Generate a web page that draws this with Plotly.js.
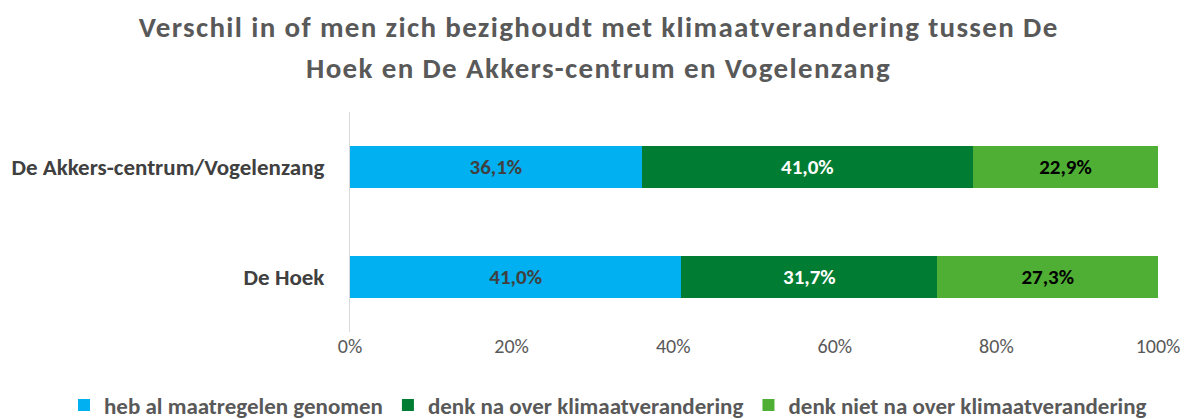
<!DOCTYPE html>
<html>
<head>
<meta charset="utf-8">
<script src="https://cdn.plot.ly/plotly-3.0.1.min.js"></script>
<style>
html,body{margin:0;padding:0;background:#fff;}
#chart{width:1192px;height:419px;}
#chart .annotation-text{letter-spacing:1.35px;}
</style>
</head>
<body>
<div id="chart"></div>
<script>
const categories = ["De Hoek", "De Akkers-centrum/Vogelenzang"];
const seriesNames = ["heb al maatregelen genomen", "denk na over klimaatverandering", "denk niet na over klimaatverandering"];
const maatregelen = [41.0, 36.1];
const denkNa = [31.7, 41.0];
const denkNietNa = [27.3, 22.9];
const tickVals = [0, 20, 40, 60, 80, 100];
const tickLabels = ["0%", "20%", "40%", "60%", "80%", "100%"];
const titleLines = ["Verschil in of men zich bezighoudt met klimaatverandering tussen De", "Hoek en De Akkers-centrum en Vogelenzang"];

const FONT = "Carlito, 'Open Sans', sans-serif";
const colors = ["#00B0F0", "#007D32", "#4FAF34"];
const textColors = ["#404040", "#ffffff", "#000000"];
const seriesData = [maatregelen, denkNa, denkNietNa];
const fmt = v => v.toFixed(1).replace('.', ',') + '%';

const traces = seriesData.map((vals, i) => ({
  type: 'bar',
  orientation: 'h',
  name: seriesNames[i],
  y: categories,
  x: vals,
  marker: {color: colors[i]},
  text: vals.map(fmt),
  textposition: 'inside',
  insidetextanchor: 'middle',
  textfont: {family: FONT, size: 21, color: textColors[i], weight: 'bold'},
  hoverinfo: 'none'
}));

// plot area: left 350px, width 808px; top 112px, height 220px
const px2x = px => (px - 350) / 808;
const px2y = py => (332 - py) / 220;
const titleY = [27, 68];
const annotations = titleLines.map((t, i) => ({
  text: '<b>' + t + '</b>',
  xref: 'paper', yref: 'paper',
  x: px2x(598), y: px2y(titleY[i]),
  xanchor: 'center', yanchor: 'middle',
  showarrow: false,
  font: {family: FONT, size: 29, color: '#595959'}
}));

const layout = {
  width: 1192, height: 419,
  barmode: 'stack',
  bargap: 0.61,
  margin: {l: 350, r: 34, t: 112, b: 87, autoexpand: false},
  paper_bgcolor: '#fff', plot_bgcolor: '#fff',
  font: {family: FONT, color: '#595959'},
  annotations: annotations,
  xaxis: {
    range: [0, 100], tickvals: tickVals, ticktext: tickLabels,
    showgrid: false, zeroline: false, showline: false,
    tickfont: {family: FONT, size: 20, color: '#595959'},
    ticks: '', ticklen: 0
  },
  yaxis: {
    range: [-0.5, 1.5],
    showline: true, linecolor: '#D9D9D9', linewidth: 1,
    ticks: '', showgrid: false, zeroline: false,
    ticklabelstandoff: 20,
    tickfont: {family: FONT, size: 23, color: '#404040', weight: 'bold'}
  },
  showlegend: true,
  legend: {
    orientation: 'h', xref: 'paper', yref: 'paper',
    x: px2x(64), xanchor: 'left',
    y: px2y(405), yanchor: 'middle',
    font: {family: FONT, size: 23, color: '#595959', weight: 'bold'},
    traceorder: 'normal', itemwidth: 30
  }
};

Plotly.newPlot('chart', traces, layout, {staticPlot: true});
</script>
</body>
</html>
